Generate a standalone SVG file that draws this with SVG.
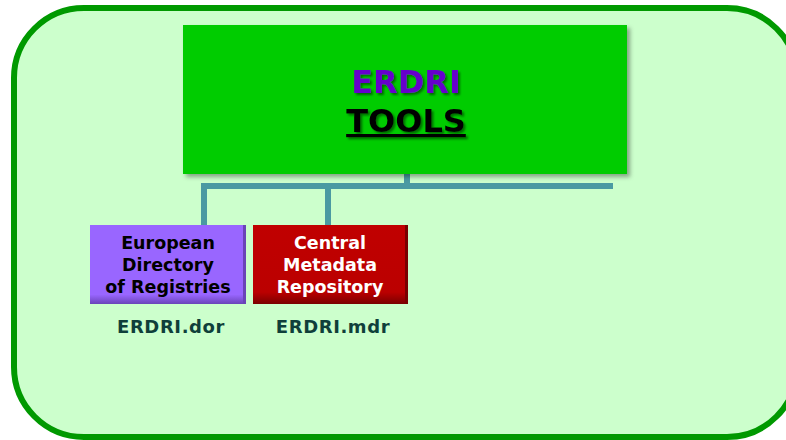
<svg xmlns="http://www.w3.org/2000/svg" width="786" height="440" viewBox="0 0 786 440">
<style>
.t{font-family:"DejaVu Sans","Verdana",sans-serif;font-weight:bold;text-anchor:middle}
.conn{stroke:#4A9AA2;stroke-width:6;fill:none}
</style>
<defs>
<filter id="sh" x="-5%" y="-5%" width="115%" height="120%">
<feGaussianBlur in="SourceAlpha" stdDeviation="2"/>
<feOffset dx="3" dy="3" result="b"/>
<feFlood flood-color="#000" flood-opacity="0.35"/>
<feComposite in2="b" operator="in"/>
<feMerge><feMergeNode/><feMergeNode in="SourceGraphic"/></feMerge>
</filter>
<filter id="tsh" x="-10%" y="-10%" width="130%" height="130%">
<feGaussianBlur in="SourceAlpha" stdDeviation="1"/>
<feOffset dx="2" dy="2" result="b"/>
<feFlood flood-color="#005500" flood-opacity="0.8"/>
<feComposite in2="b" operator="in"/>
<feMerge><feMergeNode/><feMergeNode in="SourceGraphic"/></feMerge>
</filter>
<linearGradient id="pv" x1="0" y1="0" x2="0" y2="1">
<stop offset="0" stop-color="#9966FF"/><stop offset="0.88" stop-color="#9966FF"/><stop offset="1" stop-color="#6A44B8"/>
</linearGradient>
<linearGradient id="rv" x1="0" y1="0" x2="0" y2="1">
<stop offset="0" stop-color="#C00000"/><stop offset="0.85" stop-color="#BB0000"/><stop offset="1" stop-color="#7A0000"/>
</linearGradient>
</defs>
<rect id="frame" x="14" y="8" width="783" height="429" rx="70" ry="70" fill="#CCFFCC" stroke="#009900" stroke-width="6"/>
<g id="connectors">
<path class="conn" d="M407 174 V186"/>
<path class="conn" d="M201 186 H613"/>
<path class="conn" d="M204 186 V225"/>
<path class="conn" d="M328 186 V225"/>
</g>
<g id="main">
<rect x="183" y="25" width="444" height="149" fill="#00CC00" filter="url(#sh)"/>
<g filter="url(#tsh)">
<text class="t" x="406" y="93" font-size="32" fill="#6600CC">ERDRI</text>
<text class="t" x="406" y="132" font-size="32" fill="#000" text-decoration="underline">TOOLS</text>
</g>
</g>
<g id="dor">
<rect x="90" y="225" width="156" height="79" fill="url(#pv)"/>
<rect x="243" y="225" width="3" height="79" fill="#6A44B8"/>
<text class="t" x="168" y="249" font-size="17.5" fill="#000">European</text>
<text class="t" x="168" y="271" font-size="17.5" fill="#000">Directory</text>
<text class="t" x="168" y="293" font-size="17.5" fill="#000">of Registries</text>
<text class="t" x="171" y="333" font-size="18" fill="#0F3F3A" letter-spacing="0.6">ERDRI.dor</text>
</g>
<g id="mdr">
<rect x="253" y="225" width="155" height="79" fill="url(#rv)"/>
<rect x="405" y="225" width="3" height="79" fill="#7A0000"/>
<text class="t" x="330" y="249" font-size="17.5" fill="#FFF">Central</text>
<text class="t" x="330" y="271" font-size="17.5" fill="#FFF">Metadata</text>
<text class="t" x="330" y="293" font-size="17.5" fill="#FFF">Repository</text>
<text class="t" x="333" y="333" font-size="18" fill="#0F3F3A" letter-spacing="0.6">ERDRI.mdr</text>
</g>
</svg>
